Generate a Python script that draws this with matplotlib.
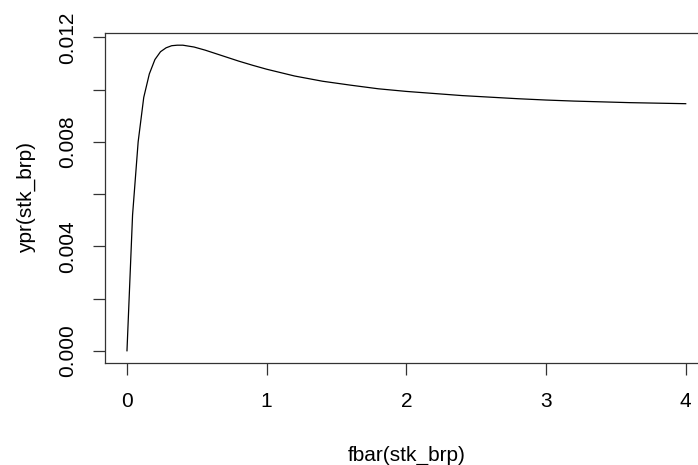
import numpy as np
import matplotlib.pyplot as plt

# yield per recruit curve
fbar = [0.0, 0.04, 0.08, 0.12, 0.16, 0.2, 0.24, 0.28, 0.32, 0.36, 0.4, 0.48,
        0.56, 0.64, 0.72, 0.8, 0.9, 1.0, 1.1, 1.2, 1.4, 1.6, 1.8, 2.0, 2.2,
        2.4, 2.6, 2.8, 3.0, 3.2, 3.4, 3.6, 3.8, 4.0]
ypr = [0.0, 0.0052, 0.0080, 0.0097, 0.0106, 0.01115, 0.01145, 0.0116,
       0.01168, 0.0117, 0.0117, 0.01163, 0.01151, 0.01137, 0.01123, 0.01109,
       0.01093, 0.01078, 0.01065, 0.01052, 0.01032, 0.01017, 0.01003, 0.00993,
       0.00985, 0.00977, 0.00971, 0.00965, 0.00960, 0.00956, 0.00953, 0.00950,
       0.00948, 0.00946]

xticks = [0, 1, 2, 3, 4]
yticks = [0.0, 0.002, 0.004, 0.006, 0.008, 0.010, 0.012]
ytick_labels = ['0.000', '', '0.004', '', '0.008', '', '0.012']

plt.rcParams['font.family'] = ['Liberation Sans', 'DejaVu Sans']

fig = plt.figure(figsize=(6.98, 4.65), dpi=100)
# box runs past the right edge of the image, like the original R device
ax = fig.add_axes([0.1499, 0.2194, 0.8645, 0.7097])

ax.plot(fbar, ypr, color='black', lw=0.9)
ax.margins(x=0.04, y=0.04)

ax.set_xticks(xticks)
ax.set_xticklabels([str(t) for t in xticks])
ax.set_yticks(yticks)
ax.set_yticklabels(ytick_labels, rotation=90, va='center')

for s in ax.spines.values():
    s.set_color('#333333')
    s.set_linewidth(0.9)
ax.spines['right'].set_visible(False)
ax.tick_params(axis='both', length=8.6, width=0.9, color='#333333',
               labelsize=15, direction='out')
ax.tick_params(axis='x', pad=12)
ax.tick_params(axis='y', pad=11)

ax.set_xlabel('fbar(stk_brp)', fontsize=15, labelpad=25)
ax.set_ylabel('ypr(stk_brp)', fontsize=15, labelpad=16)

fig.savefig('out.png', dpi=100)
